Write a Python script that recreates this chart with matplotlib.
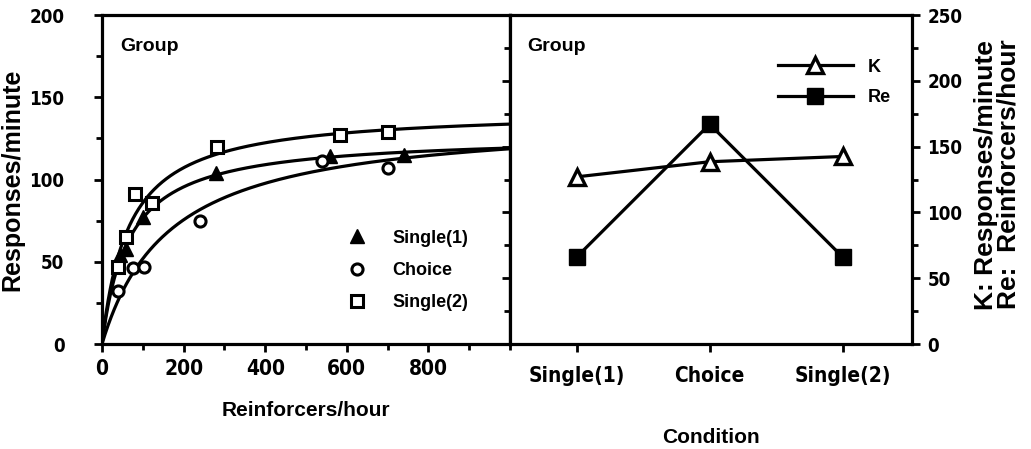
import numpy as np
import matplotlib
matplotlib.use("Agg")
import matplotlib.pyplot as plt
from matplotlib import font_manager as fm
from matplotlib.ticker import MultipleLocator

# condensed face for the tick labels if the system has one
has_condensed = any(f.name == "DejaVu Sans" and f.stretch == "condensed" for f in fm.fontManager.ttflist)
if has_condensed:
    TICK_FONT = dict(family="DejaVu Sans", stretch="condensed", weight="bold")
else:
    TICK_FONT = dict(family="Liberation Sans", weight="bold")

plt.rcParams["font.family"] = ["Liberation Sans", "DejaVu Sans"]
plt.rcParams["font.weight"] = "bold"
plt.rcParams["axes.labelweight"] = "bold"

# Left panel: response rate vs obtained reinforcer rate
single1_x = [44, 60, 101, 279, 560, 740]
single1_y = [54, 58, 77, 104, 114, 115]
choice_x = [40, 77, 104, 240, 538, 700]
choice_y = [32, 46, 47, 75, 111, 107]
single2_x = [40, 60, 81, 123, 281, 583, 700]
single2_y = [47, 65, 91, 86, 120, 127, 129]

# Right panel: fitted Herrnstein parameters per condition
conditions = ["Single(1)", "Choice", "Single(2)"]
k_vals = [127, 138.5, 142.5]
re_vals = [66, 167, 66]

LW = 2.3

fig = plt.figure(figsize=(10.31, 4.49), dpi=100)
ax1 = fig.add_axes([102 / 1031, 1 - 344 / 449, 408 / 1031, 329 / 449])
ax2 = fig.add_axes([510 / 1031, 1 - 344 / 449, 402 / 1031, 329 / 449])

# fitted hyperbolae R = k r / (r + re), parameters as plotted on the right
r = np.linspace(0, 1000, 400)
for k, re in zip(k_vals, re_vals):
    ax1.plot(r, k * r / (r + re), color="black", lw=LW, zorder=2)

ax1.plot(single1_x, single1_y, "^", ms=10, color="black", ls="none", label="Single(1)", zorder=3)
ax1.plot(choice_x, choice_y, "o", ms=8, mfc="white", mec="black", mew=2.2, ls="none", label="Choice", zorder=3)
ax1.plot(single2_x, single2_y, "s", ms=9, mfc="white", mec="black", mew=2.2, ls="none", label="Single(2)", zorder=3)

ax1.set_xlim(0, 1000)
ax1.set_ylim(0, 200)
ax1.set_xticks([0, 200, 400, 600, 800])
ax1.xaxis.set_minor_locator(MultipleLocator(100))
ax1.set_yticks([0, 50, 100, 150, 200])
ax1.yaxis.set_minor_locator(MultipleLocator(25))
ax1.tick_params(axis="both", which="major", direction="out", length=6, width=2, labelsize=15)
ax1.tick_params(axis="both", which="minor", direction="out", length=4, width=2)
ax1.tick_params(axis="y", which="major", pad=21)
ax1.tick_params(axis="x", which="major", pad=5)
ax1.set_xlabel("Reinforcers/hour", fontsize=15, labelpad=16)
ax1.set_ylabel("Responses/minute", fontsize=18, va="center")
ax1.yaxis.set_label_coords(-0.22, 0.5)
ax1.text(0.045, 0.905, "Group", transform=ax1.transAxes, fontsize=14, va="center", ha="left")
ax1.legend(loc="upper left", bbox_to_anchor=(0.57, 0.375), frameon=False, fontsize=13,
           handletextpad=1.2, labelspacing=0.85, handlelength=1.5, borderpad=0)

ax2.plot(range(len(conditions)), k_vals, "-^", color="black", lw=LW, ms=12, mfc="white", mec="black", mew=2.4,
         label="K", zorder=3)
ax2.plot(range(len(conditions)), re_vals, "-s", color="black", lw=LW, ms=11, label="Re", zorder=3)
ax2.set_xlim(-0.5, 2.52)
ax2.set_ylim(0, 250)
ax2.set_xticks(range(len(conditions)))
ax2.set_xticklabels(conditions)
ax2.set_yticks([0, 50, 100, 150, 200, 250])
ax2.yaxis.set_minor_locator(MultipleLocator(25))
ax2.yaxis.tick_right()
ax2.tick_params(axis="y", which="both", left=True, right=True, labelleft=False, labelright=True)
ax2.tick_params(axis="both", which="major", direction="out", length=6, width=2, labelsize=15, pad=5)
ax2.tick_params(axis="y", which="minor", direction="out", length=4, width=2)
ax2.tick_params(axis="x", which="major", pad=10)
ax2.set_xlabel("Condition", fontsize=15, labelpad=30)
ax2.set_ylabel("K: Responses/minute\nRe:  Reinforcers/hour", fontsize=19, linespacing=0.95,
               va="center", ha="center", rotation=90)
ax2.yaxis.set_label_coords(1.212, 0.515)
ax2.text(0.042, 0.905, "Group", transform=ax2.transAxes, fontsize=14, va="center", ha="left")
ax2.legend(loc="upper right", bbox_to_anchor=(0.97, 0.895), frameon=False, fontsize=13,
           handlelength=4.2, handletextpad=0.8, labelspacing=0.75, borderpad=0)

for ax in (ax1, ax2):
    for sp in ax.spines.values():
        sp.set_linewidth(LW)
    for lab in ax.get_xticklabels():
        lab.set_fontproperties(fm.FontProperties(size=15, **TICK_FONT))
    for lab in ax.get_yticklabels():
        lab.set_fontproperties(fm.FontProperties(size=13.5, **TICK_FONT))

fig.savefig("out.png", dpi=100)
